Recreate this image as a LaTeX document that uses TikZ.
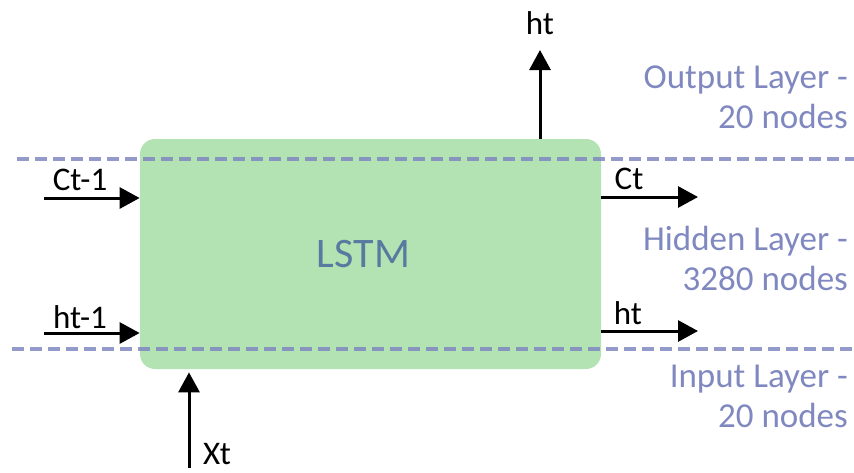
\documentclass[tikz,border=0pt]{standalone}
\usepackage{fontspec}
\setmainfont{Carlito}
\usetikzlibrary{arrows.meta}

\definecolor{cellgreen}{RGB}{179,227,179}
\definecolor{layerblue}{RGB}{128,136,192}
\definecolor{lstmblue}{RGB}{88,122,160}

\tikzset{every picture/.style={line width=0.75pt}}
\tikzset{
  flow/.style={line width=3pt,-{Triangle[length=20pt,width=21pt]}},
  layerline/.style={draw=layerblue,draw opacity=0.85,line width=3.5pt,dash pattern=on 12pt off 6pt},
  sig/.style={inner sep=0.75pt,font=\fontsize{33}{38}\selectfont},
  layertxt/.style={inner sep=0.75pt,align=right,text=layerblue,font=\fontsize{35}{40}\selectfont}
}

\begin{document}
\begin{tikzpicture}[x=1pt,y=1pt,yscale=-1]
\useasboundingbox (0,0) rectangle (854,472);

% the cell
\node (lstm) [fill=cellgreen,rounded corners=15pt,minimum width=461pt,minimum height=230pt,text=lstmblue,font=\fontsize{42}{50}\selectfont] at (370.5,254) {\hspace*{-14pt}LSTM};

% layer boundaries
\draw [layerline] (17,159) -- (854,159) ;
\draw [layerline] (12,349) -- (854,349) ;

% inputs
\coordinate (ctin) at (44,198);
\coordinate (htin) at (44,333);
\coordinate (xtin) at (189,468);
\draw [flow] (ctin) -- (ctin -| lstm.west) ;
\draw [flow] (htin) -- (htin -| lstm.west) ;
\draw [flow] (xtin) -- ([yshift=3pt]xtin |- lstm.south) ;

% outputs
\coordinate (ctout) at (698,197);
\coordinate (htout) at (698,331);
\coordinate (htup) at (540,50);
\draw [flow] (ctout -| lstm.east) -- (ctout) ;
\draw [flow] (htout -| lstm.east) -- (htout) ;
\draw [flow] (htup |- lstm.north) -- (htup) ;

\node [sig] (ctinl) at (80,180) {Ct-1};
\node [sig] (htinl) at (80,317) {ht-1};
\node [sig] (ctoutl) at (629,179) {Ct};
\node [sig] (htoutl) at (628,313) {ht};
\node [sig] (htupl) at (540,23) {ht};
\node [sig] (xtl) at (217,454) {Xt};

\node [layertxt,anchor=east] (outl) at (849,97) {Output Layer -\\20 nodes};
\node [layertxt,anchor=east] (hidl) at (849,258) {Hidden Layer -\\3280 nodes};
\node [layertxt,anchor=east] (inpl) at (849,396) {Input Layer -\\20 nodes};
\end{tikzpicture}
\end{document}
